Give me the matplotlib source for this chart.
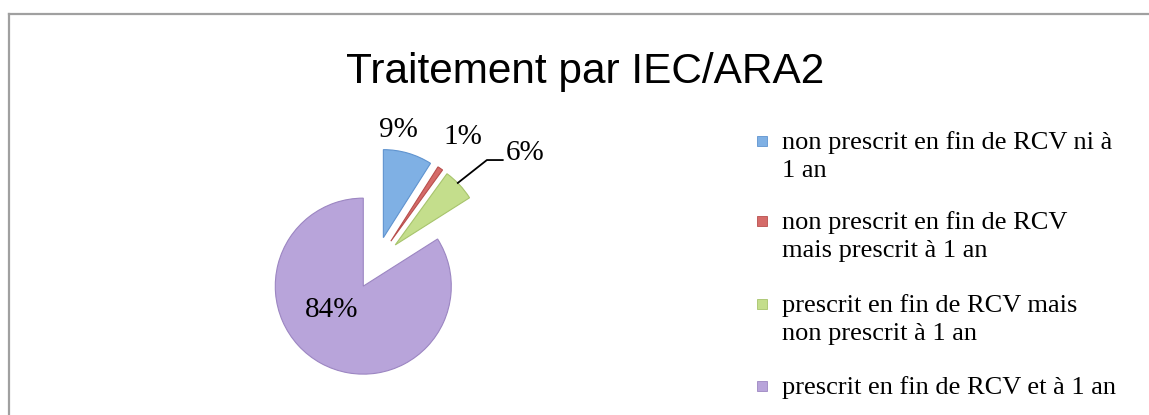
import matplotlib
matplotlib.use("Agg")
import matplotlib.pyplot as plt
from matplotlib.lines import Line2D
from matplotlib.patches import Rectangle

# data
categories = [
    "non prescrit en fin de RCV ni à\n1 an",
    "non prescrit en fin de RCV\nmais prescrit à 1 an",
    "prescrit en fin de RCV mais\nnon prescrit à 1 an",
    "prescrit en fin de RCV et à 1 an",
]
shares = [9, 1, 6, 84]
pct_labels = ["9%", "1%", "6%", "84%"]
colors = ["#7FB0E4", "#D56B69", "#C4DE8C", "#B8A4DA"]
edge_colors = ["#5F93CF", "#B84F4D", "#A7C46C", "#9C86C2"]

W, H = 1149, 415
fig = plt.figure(figsize=(W / 100, H / 100), dpi=100)

# outer frame (grey border, right/bottom cut off)
fig.add_artist(Line2D([9 / W, 9 / W], [0, 1 - 14 / H], color="#A0A0A0", lw=1.6))
fig.add_artist(Line2D([9 / W, 1], [1 - 14 / H, 1 - 14 / H], color="#A0A0A0", lw=1.6))

fig.text(585 / W, 1 - 83 / H, "Traitement par IEC/ARA2", ha="center", va="baseline",
         fontsize=30.5, family="Liberation Sans")

# pie axes: 1 data unit = 88 px, centre at (376, 263) px
R = 88
cx, cy = 376, H - 263
ax = fig.add_axes([(cx - 2 * R) / W, (cy - 2 * R) / H, 4 * R / W, 4 * R / H])
wedges, _ = ax.pie(shares, colors=colors, startangle=90, counterclock=False,
                   explode=[0.3] * 4, wedgeprops=dict(linewidth=0.8))
for w, ec in zip(wedges, edge_colors):
    w.set_edgecolor(ec)
ax.set_xlim(-2, 2)
ax.set_ylim(-2, 2)
ax.set_aspect("equal")
ax.axis("off")

serif = ["Liberation Serif", "DejaVu Serif"]
label_pos = [(0.25, 1.51), (0.99, 1.43), (1.69, 1.25), (-0.5, -0.53)]
for txt, (x, y) in zip(pct_labels, label_pos):
    ax.text(x, y, txt, ha="center", va="center", fontsize=21, family=serif)
# leader line for the 6% label
ax.plot([0.93, 1.26, 1.44], [0.91, 1.17, 1.17], color="black", lw=1.3)

# legend drawn by hand so the marker sits on the first text line
legend_first_base = [149, 229, 312, 394]
line_gap = 28
for lab, col, ec, yb in zip(categories, colors, edge_colors, legend_first_base):
    fig.add_artist(Rectangle((757 / W, 1 - (yb - 3) / H), 10 / W, 10 / H,
                             transform=fig.transFigure, facecolor=col,
                             edgecolor=ec, lw=0.6))
    for i, part in enumerate(lab.split("\n")):
        fig.text(782 / W, 1 - (yb + i * line_gap) / H, part, ha="left",
                 va="baseline", fontsize=19, family=serif)

fig.savefig("out.png", dpi=100)
